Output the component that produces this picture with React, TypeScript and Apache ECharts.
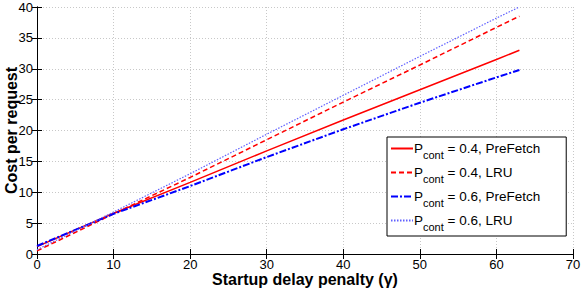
import React, { useEffect, useRef } from "react";
import * as echarts from "echarts";

const xTicks = [0, 10, 20, 30, 40, 50, 60, 63];
const pref04 = [1.2, 6.6, 11.6, 16.7, 21.7, 26.6, 31.5, 33.0];
const lru04 = [0.5, 6.5, 12.4, 18.5, 24.6, 30.6, 36.7, 38.5];
const pref06 = [1.3, 6.5, 11.0, 15.7, 20.2, 24.5, 28.6, 29.8];
const lru06 = [0.7, 6.8, 13.0, 19.4, 25.7, 32.0, 38.2, 40.0];
const seriesSuffix = [" = 0.4, PreFetch", " = 0.4, LRU", " = 0.6, PreFetch", " = 0.6, LRU"];

const FONT = "'Liberation Sans', Arial, Helvetica, sans-serif";

export default function App() {
  const ref = useRef<HTMLDivElement>(null);
  useEffect(() => {
    if (!ref.current) return;
    const chart = echarts.init(ref.current, undefined, { renderer: "svg" });
    const pairs = (ys: number[]) => xTicks.map((x, i) => [x, ys[i]]);
    const names = seriesSuffix.map((s) => "Pcont" + s);
    const styles = [
      { color: "#ff0000", type: "solid" as any, width: 1.5 },
      { color: "#ff0000", type: [5, 3] as any, width: 1.5 },
      { color: "#0000ff", type: [7, 2, 2, 2] as any, width: 2 },
      { color: "#6060ff", type: [1.5, 1.5] as any, width: 1.2 },
    ];
    const datas = [pref04, lru04, pref06, lru06];
    const axisCommon = {
      axisLine: { lineStyle: { color: "#000", width: 1 } },
      axisTick: { inside: true, length: 5, lineStyle: { color: "#000" } },
    };
    chart.setOption({
      animation: false,
      textStyle: { fontFamily: FONT },
      grid: { left: 37, right: 8, top: 7, bottom: 35, containLabel: false, outerBoundsMode: "none" },
      legend: {
        orient: "vertical",
        left: 387,
        top: 137,
        padding: [4, 26, 4, 3],
        itemGap: 5,
        itemWidth: 22,
        itemHeight: 14,
        backgroundColor: "#fff",
        borderColor: "#000",
        borderWidth: 1,
        borderRadius: 0,
        itemStyle: { opacity: 0 },
        data: names,
        formatter: (n: string) => `{p|P}{s|cont}{t|${n.slice(5)}}`,
        textStyle: {
          fontFamily: FONT,
          color: "#000",
          padding: [0, 0, 0, -4],
          rich: {
            p: { fontSize: 13.5, lineHeight: 15, verticalAlign: "top", fontFamily: FONT },
            s: { fontSize: 11, lineHeight: 11, padding: [8, 0, 0, 0], verticalAlign: "top", fontFamily: FONT },
            t: { fontSize: 13.5, lineHeight: 15, verticalAlign: "top", fontFamily: FONT },
          },
        },
      },
      xAxis: [
        {
          type: "value",
          min: 0,
          max: 70,
          interval: 10,
          ...axisCommon,
          axisLabel: { color: "#000", fontSize: 13, margin: 4, fontFamily: FONT },
          splitLine: { show: true, lineStyle: { color: "#c8c8c8", type: [1, 2] } },
          name: "Startup delay penalty (\u03b3)",
          nameLocation: "middle",
          nameGap: 17,
          nameMoveOverlap: false,
          nameTextStyle: { color: "#000", fontSize: 16, fontWeight: "bold", fontFamily: FONT, verticalAlign: "top" },
        },
        {
          type: "value",
          position: "top",
          min: 0,
          max: 70,
          interval: 10,
          ...axisCommon,
          axisLabel: { show: false },
          splitLine: { show: false },
        },
      ],
      yAxis: [
        {
          type: "value",
          min: 0,
          max: 40,
          interval: 5,
          ...axisCommon,
          axisLabel: { color: "#000", fontSize: 13, margin: 4, fontFamily: FONT },
          splitLine: { show: true, lineStyle: { color: "#c8c8c8", type: [1, 2] } },
          name: "Cost per request",
          nameLocation: "middle",
          nameGap: 18,
          nameMoveOverlap: false,
          nameTextStyle: { color: "#000", fontSize: 16, fontWeight: "bold", fontFamily: FONT },
        },
        {
          type: "value",
          position: "right",
          min: 0,
          max: 40,
          interval: 5,
          ...axisCommon,
          axisLabel: { show: false },
          splitLine: { show: false },
        },
      ],
      series: datas.map((d, i) => ({
        type: "line",
        name: names[i],
        data: pairs(d),
        showSymbol: false,
        symbol: "none",
        lineStyle: styles[i],
        itemStyle: { color: styles[i].color },
        color: styles[i].color,
      })),
    });
    return () => chart.dispose();
  }, []);
  return <div ref={ref} style={{ width: 581, height: 289, position: "absolute", left: 0, top: 0 }} />;
}
